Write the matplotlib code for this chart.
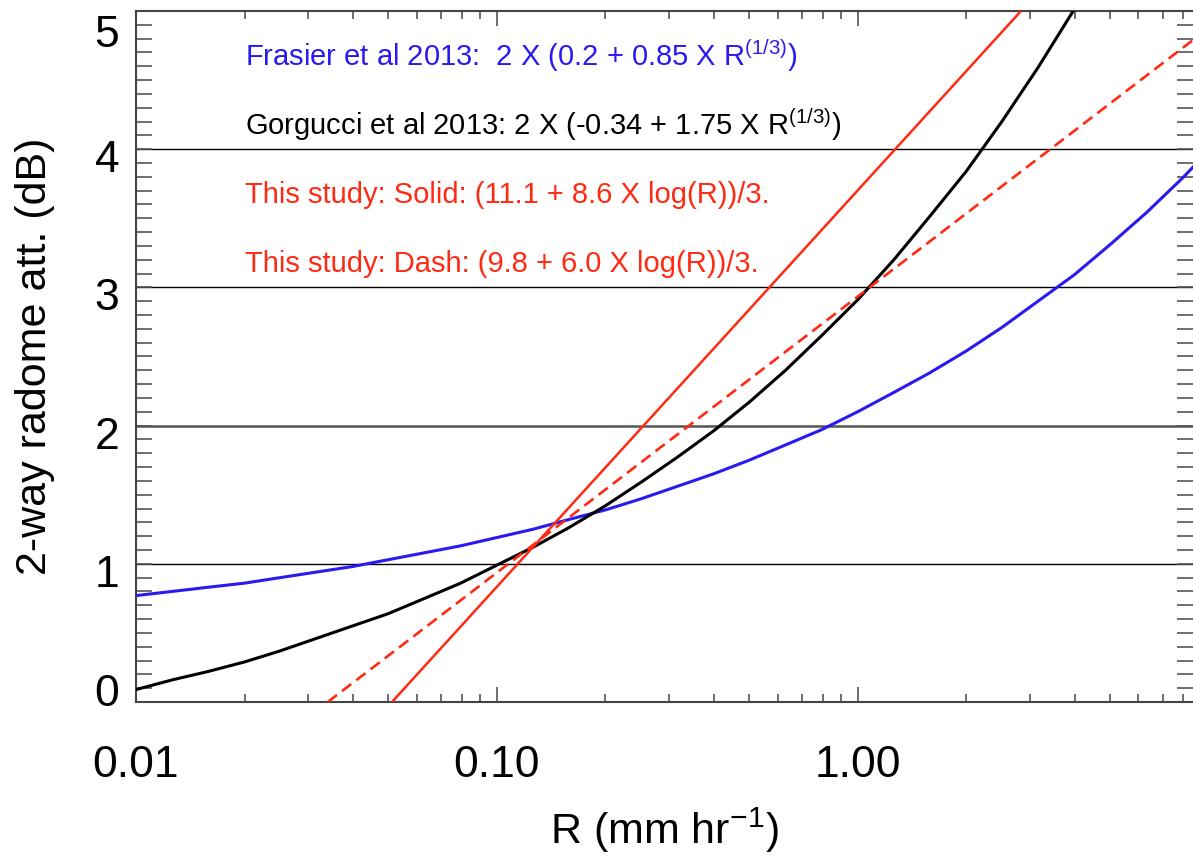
import numpy as np
import matplotlib
matplotlib.use("Agg")
import matplotlib.pyplot as plt
from matplotlib.ticker import LogLocator, MultipleLocator, NullFormatter
from matplotlib.transforms import ScaledTranslation

plt.rcParams['font.family'] = ['Liberation Sans', 'DejaVu Sans']
plt.rcParams['mathtext.fontset'] = 'custom'
plt.rcParams['mathtext.rm'] = 'Liberation Sans'
plt.rcParams['mathtext.it'] = 'Liberation Sans'

# values (R in mm/hr, attenuation in dB)
r_frasier = [0.01, 0.0126, 0.0158, 0.02, 0.0251, 0.0316, 0.0398, 0.0501, 0.0631,
             0.0794, 0.1, 0.126, 0.158, 0.2, 0.251, 0.316, 0.398, 0.501, 0.631,
             0.794, 1.0, 1.26, 1.58, 2.0, 2.51, 3.16, 3.98, 5.01, 6.31, 7.94, 8.5]
att_frasier = [0.77, 0.80, 0.83, 0.86, 0.90, 0.94, 0.98, 1.03, 1.08,
               1.13, 1.19, 1.25, 1.32, 1.39, 1.47, 1.56, 1.65, 1.75, 1.86,
               1.97, 2.10, 2.24, 2.38, 2.54, 2.71, 2.90, 3.09, 3.31, 3.54, 3.79, 3.87]

r_gorgucci = [0.01, 0.0126, 0.0158, 0.02, 0.0251, 0.0316, 0.0398, 0.0501, 0.0631,
              0.0794, 0.1, 0.126, 0.158, 0.2, 0.251, 0.316, 0.398, 0.501, 0.631,
              0.794, 1.0, 1.26, 1.58, 2.0, 2.51, 3.16, 3.98, 4.17]
att_gorgucci = [0.09, 0.16, 0.22, 0.29, 0.37, 0.46, 0.55, 0.64, 0.75,
                0.86, 0.99, 1.12, 1.26, 1.42, 1.59, 1.77, 1.96, 2.17, 2.40,
                2.65, 2.91, 3.20, 3.51, 3.84, 4.20, 4.59, 5.01, 5.10]

r_solid = [0.05, 3.0]
att_solid = [-0.03, 5.07]

r_dash = [0.034, 8.5]
att_dash = [0.0, 4.79]

grid_levels = [1, 2, 3, 4]
xtick_vals = [0.01, 0.1, 1.0]
xtick_labels = ["0.01", "0.10", "1.00"]
ytick_vals = [0, 1, 2, 3, 4, 5]

BLUE = '#2a1af0'
RED = '#ff2a12'
labels = [
    ("Frasier et al 2013:  2 X (0.2 + 0.85 X R$^{\\mathregular{(1/3)}}$)", BLUE),
    ("Gorgucci et al 2013: 2 X (-0.34 + 1.75 X R$^{\\mathregular{(1/3)}}$)", 'black'),
    ("This study: Solid: (11.1 + 8.6 X log(R))/3.", RED),
    ("This study: Dash: (9.8 + 6.0 X log(R))/3.", RED),
]

W, H = 1193, 860
fig = plt.figure(figsize=(W / 100, H / 100), dpi=100)
ax = fig.add_axes([136 / W, 1 - 702 / H, (W - 136) / W, 691 / H])

for lev in grid_levels:
    if lev == 2:
        ax.axhline(lev, color='#555555', lw=1.8, zorder=1)
    else:
        ax.axhline(lev, color='black', lw=1.0, zorder=1)

ax.plot(r_frasier, att_frasier, color=BLUE, lw=2.2, zorder=3)
ax.plot(r_gorgucci, att_gorgucci, color='black', lw=2.2, zorder=3)
ax.plot(r_solid, att_solid, color=RED, lw=1.8, zorder=4)
ax.plot(r_dash, att_dash, color=RED, lw=1.9, ls=(0, (4.4, 2.4)), zorder=4)

ax.set_xscale('log')
ax.set_xlim(0.01, 8.5)
ax.set_ylim(0, 5)

ax.set_xticks(xtick_vals)
ax.set_xticklabels(xtick_labels)
ax.xaxis.set_minor_locator(LogLocator(base=10, subs=np.arange(2, 10)))
ax.xaxis.set_minor_formatter(NullFormatter())
ax.set_yticks(ytick_vals)
ax.set_yticklabels([str(v) for v in ytick_vals])
ax.yaxis.set_minor_locator(MultipleLocator(0.1))

ax.tick_params(which='both', direction='in', top=True, right=True,
               color='#555555', width=1.2)
ax.tick_params(axis='x', which='major', length=10.8, pad=31, labelsize=32)
ax.tick_params(axis='x', which='minor', length=5.8)
ax.tick_params(axis='y', which='both', length=11.5)
ax.tick_params(axis='y', which='major', pad=12, labelsize=32)

for side in ['left', 'bottom', 'top']:
    ax.spines[side].set_color('#444444')
    ax.spines[side].set_linewidth(1.5)
ax.spines['right'].set_visible(False)

ax.set_xlabel("R (mm hr$^{\\mathregular{-1}}$)", fontsize=31)
ax.set_ylabel("2-way radome att. (dB)", fontsize=31)
ax.xaxis.set_label_coords(0.5, -0.150)
ax.yaxis.set_label_coords(-0.077, 0.5)

ys = [0.9204, 0.8205, 0.7221, 0.6223]
for (txt, col), y in zip(labels, ys):
    ax.text(0.103, y, txt, color=col, fontsize=21, va='baseline',
            transform=ax.transAxes, zorder=5)

# IDL-style placement of y tick labels: sit a bit low, end labels pulled inside
fig.canvas.draw()
shift_down = {'5': 20, '0': -12}
for lab in ax.get_yticklabels():
    down = shift_down.get(lab.get_text(), 7)
    lab.set_transform(lab.get_transform() +
                      ScaledTranslation(0, -down / 100, fig.dpi_scale_trans))

fig.savefig("out.png", dpi=100)
